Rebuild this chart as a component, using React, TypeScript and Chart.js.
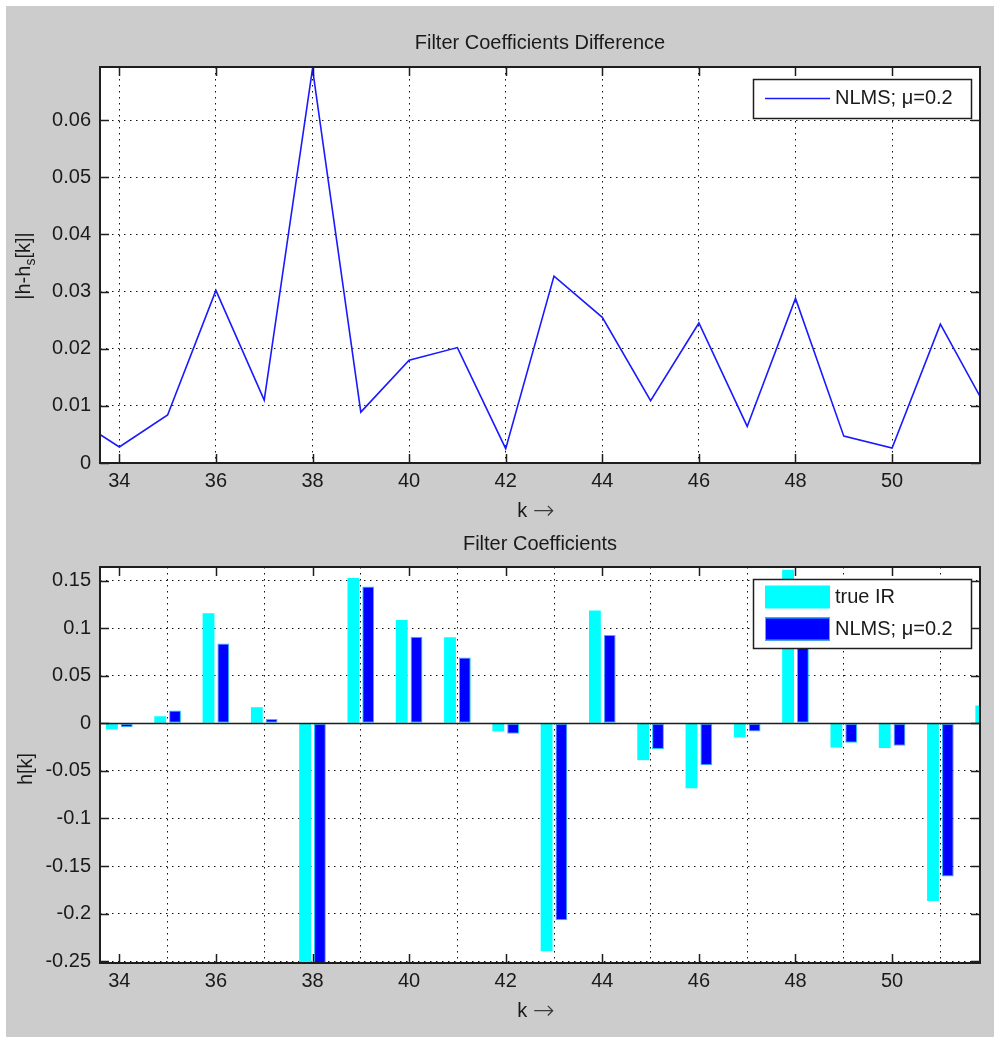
import React, { useEffect, useRef } from 'react';
import { Chart, registerables } from 'chart.js';

Chart.register(...registerables);

// ---------------- data ----------------
const K_DIFF = [33, 34, 35, 36, 37, 38, 39, 40, 41, 42, 43, 44, 45, 46, 47, 48, 49, 50, 51, 52];
const DIFF_NLMS = [
  0.0083, 0.0028, 0.0084, 0.0302, 0.011, 0.069, 0.0089, 0.018, 0.0202, 0.0025,
  0.0327, 0.0255, 0.0109, 0.0245, 0.0064, 0.0288, 0.0047, 0.0026, 0.0243, 0.0089,
];

const K_BARS = [34, 35, 36, 37, 38, 39, 40, 41, 42, 43, 44, 45, 46, 47, 48, 49, 50, 51, 52];
const TRUE_IR = [
  -0.0063, 0.0074, 0.1156, 0.0169, -0.34, 0.1526, 0.1086, 0.0903, -0.0085, -0.2395,
  0.1184, -0.0387, -0.0683, -0.0148, 0.1614, -0.0255, -0.026, -0.1867, 0.0187,
];
const NLMS_IR = [
  -0.0042, 0.0134, 0.0839, 0.0046, -0.2707, 0.1438, 0.0909, 0.0691, -0.011, -0.2068,
  0.0927, -0.0271, -0.044, -0.0085, 0.1326, -0.0205, -0.0236, -0.161, 0.0098,
];

const X_TICKS = [34, 36, 38, 40, 42, 44, 46, 48, 50];
const X_TICK_LABELS = ['34', '36', '38', '40', '42', '44', '46', '48', '50'];
const DIFF_Y_TICKS = [0, 0.01, 0.02, 0.03, 0.04, 0.05, 0.06];
const DIFF_Y_TICK_LABELS = ['0', '0.01', '0.02', '0.03', '0.04', '0.05', '0.06'];
const COEF_Y_TICKS = [-0.25, -0.2, -0.15, -0.1, -0.05, 0, 0.05, 0.1, 0.15];
const COEF_Y_TICK_LABELS = ['-0.25', '-0.2', '-0.15', '-0.1', '-0.05', '0', '0.05', '0.1', '0.15'];

const X_MIN = 33.6;
const X_MAX = 51.82;
const DIFF_Y_MIN = 0;
const DIFF_Y_MAX = 0.0693;
const COEF_Y_MIN = -0.2518;
const COEF_Y_MAX = 0.1642;

const TOP_TITLE = 'Filter Coefficients Difference';
const BOTTOM_TITLE = 'Filter Coefficients';
const X_TITLE_K = 'k';
const X_TITLE_ARROW = '\u2192';
const LEGEND_NLMS = 'NLMS; \u03bc=0.2';
const LEGEND_TRUE = 'true IR';

// ---------------- style ----------------
const FONT = '"Liberation Sans", Arial, Helvetica, sans-serif';
const ARROW_FONT = '"DejaVu Sans", sans-serif';
const TEXT = '#1a1a1a';
const AXIS = '#1e1e1e';
const GRID = '#111111';
const CYAN = '#00ffff';
const BLUE = '#0000ff';
const LINE_BLUE = '#1a1aff';

type LabelPart = { text: string; sub?: boolean };
type LegendItem = {
  kind: 'line' | 'box';
  color: string;
  border?: string;
  label: string;
  cy: number;
  h?: number;
};
type Deco = {
  yLabelParts: LabelPart[];
  yLabelX: number;
  yLabelCy: number;
  xLabelBase: number;
  legend: { x: number; y: number; w: number; h: number; items: LegendItem[] };
  baseline?: boolean;
};

function makeDeco(deco: Deco) {
  return {
    id: 'matlabDeco',
    beforeDraw(chart: any) {
      const { ctx, chartArea: a } = chart;
      ctx.save();
      ctx.fillStyle = '#ffffff';
      ctx.fillRect(a.left, a.top, a.right - a.left, a.bottom - a.top);
      ctx.restore();
    },
    afterDatasetsDraw(chart: any) {
      if (!deco.baseline) return;
      const { ctx, chartArea: a } = chart;
      const y0 = Math.round(chart.scales.y.getPixelForValue(0)) + 0.5;
      ctx.save();
      ctx.strokeStyle = AXIS;
      ctx.lineWidth = 1.5;
      ctx.beginPath();
      ctx.moveTo(a.left, y0);
      ctx.lineTo(a.right, y0);
      ctx.stroke();
      ctx.restore();
    },
    afterDraw(chart: any) {
      const { ctx, chartArea: a } = chart;
      const xs = chart.scales.x;
      const ys = chart.scales.y;
      ctx.save();
      // inward ticks
      ctx.strokeStyle = AXIS;
      ctx.lineWidth = 1.5;
      const TL = 9;
      ctx.beginPath();
      xs.ticks.forEach((t: any) => {
        const px = Math.round(xs.getPixelForValue(t.value)) + 0.5;
        ctx.moveTo(px, a.bottom);
        ctx.lineTo(px, a.bottom - TL);
        ctx.moveTo(px, a.top);
        ctx.lineTo(px, a.top + TL);
      });
      ys.ticks.forEach((t: any) => {
        const py = Math.round(ys.getPixelForValue(t.value)) + 0.5;
        ctx.moveTo(a.left, py);
        ctx.lineTo(a.left + TL, py);
        ctx.moveTo(a.right, py);
        ctx.lineTo(a.right - TL, py);
      });
      ctx.stroke();
      // frame
      ctx.lineWidth = 2;
      ctx.strokeRect(a.left, a.top, a.right - a.left, a.bottom - a.top);

      // x title: "k →"
      ctx.fillStyle = TEXT;
      ctx.textBaseline = 'alphabetic';
      ctx.textAlign = 'left';
      ctx.font = `20px ${FONT}`;
      const kW = ctx.measureText(X_TITLE_K + ' ').width;
      ctx.font = `200 26px ${ARROW_FONT}`;
      const arW = ctx.measureText(X_TITLE_ARROW).width;
      const startX = (a.left + a.right) / 2 - 4 - (kW + arW) / 2;
      ctx.font = `20px ${FONT}`;
      ctx.fillText(X_TITLE_K, startX, a.bottom + deco.xLabelBase);
      ctx.fillStyle = '#3a3a3a';
      ctx.font = `200 26px ${ARROW_FONT}`;
      ctx.fillText(X_TITLE_ARROW, startX + kW, a.bottom + deco.xLabelBase + 2);

      // y title (rotated, with subscript)
      ctx.fillStyle = TEXT;
      ctx.save();
      ctx.translate(deco.yLabelX, deco.yLabelCy);
      ctx.rotate(-Math.PI / 2);
      ctx.textAlign = 'left';
      ctx.textBaseline = 'alphabetic';
      const widths = deco.yLabelParts.map((p) => {
        ctx.font = p.sub ? `14px ${FONT}` : `20px ${FONT}`;
        return ctx.measureText(p.text).width;
      });
      const total = widths.reduce((s, w) => s + w, 0);
      let cx = -total / 2;
      deco.yLabelParts.forEach((p, i) => {
        ctx.font = p.sub ? `14px ${FONT}` : `20px ${FONT}`;
        ctx.fillText(p.text, cx, p.sub ? 5 : 0);
        cx += widths[i];
      });
      ctx.restore();

      // legend
      const L = deco.legend;
      ctx.fillStyle = '#ffffff';
      ctx.fillRect(L.x, L.y, L.w, L.h);
      ctx.strokeStyle = AXIS;
      ctx.lineWidth = 1.5;
      ctx.strokeRect(L.x + 0.5, L.y + 0.5, L.w, L.h);
      L.items.forEach((it) => {
        if (it.kind === 'line') {
          ctx.strokeStyle = it.color;
          ctx.lineWidth = 1.5;
          ctx.beginPath();
          ctx.moveTo(L.x + 12, L.y + it.cy);
          ctx.lineTo(L.x + 77, L.y + it.cy);
          ctx.stroke();
        } else {
          const h = it.h || 22;
          ctx.fillStyle = it.color;
          ctx.fillRect(L.x + 12, L.y + it.cy - h / 2, 65, h);
          if (it.border) {
            ctx.strokeStyle = it.border;
            ctx.lineWidth = 1;
            ctx.strokeRect(L.x + 12.5, L.y + it.cy - h / 2 + 0.5, 64, h - 1);
          }
        }
        ctx.fillStyle = TEXT;
        ctx.font = `20px ${FONT}`;
        ctx.textAlign = 'left';
        ctx.textBaseline = 'middle';
        ctx.fillText(it.label, L.x + 82, L.y + it.cy);
      });
      ctx.restore();
    },
  };
}

function xScale(height: number) {
  return {
    type: 'linear' as const,
    min: X_MIN,
    max: X_MAX,
    offset: false,
    afterBuildTicks: (s: any) => {
      s.ticks = X_TICKS.map((v) => ({ value: v }));
    },
    afterFit: (s: any) => {
      s.height = height;
    },
    grid: { color: GRID, lineWidth: 1, drawTicks: false },
    border: { display: false, dash: [1.5, 4.5] },
    ticks: {
      font: { family: FONT, size: 20 },
      color: TEXT,
      padding: 6,
      maxRotation: 0,
      autoSkip: false,
      callback: (_v: any, i: number) => X_TICK_LABELS[i],
    },
  };
}

function yScale(min: number, max: number, ticks: number[], labels: string[]) {
  return {
    type: 'linear' as const,
    min,
    max,
    afterBuildTicks: (s: any) => {
      s.ticks = ticks.map((v) => ({ value: v }));
    },
    afterFit: (s: any) => {
      s.width = 100;
    },
    grid: { color: GRID, lineWidth: 1, drawTicks: false },
    border: { display: false, dash: [1.5, 4.5] },
    ticks: {
      font: { family: FONT, size: 20 },
      color: TEXT,
      padding: 9,
      autoSkip: false,
      callback: (_v: any, i: number) => labels[i],
    },
  };
}

export default function App() {
  const topRef = useRef<HTMLCanvasElement>(null);
  const botRef = useRef<HTMLCanvasElement>(null);

  useEffect(() => {
    const top = new Chart(topRef.current!, {
      type: 'line',
      data: {
        datasets: [
          {
            label: LEGEND_NLMS,
            data: K_DIFF.map((k, i) => ({ x: k, y: DIFF_NLMS[i] })),
            borderColor: LINE_BLUE,
            borderWidth: 1.6,
            pointRadius: 0,
            tension: 0,
            fill: false,
          },
        ],
      },
      options: {
        responsive: false,
        animation: false,
        events: [],
        layout: { padding: { left: 0, right: 14, top: 0, bottom: 0 } },
        plugins: {
          legend: { display: false },
          tooltip: { enabled: false },
          title: {
            display: true,
            text: TOP_TITLE,
            fullSize: false,
            color: TEXT,
            font: { family: FONT, size: 20, weight: 'normal' },
            padding: { top: 31, bottom: 12 },
          },
        },
        scales: {
          x: xScale(58),
          y: yScale(DIFF_Y_MIN, DIFF_Y_MAX, DIFF_Y_TICKS, DIFF_Y_TICK_LABELS),
        },
      } as any,
      plugins: [
        makeDeco({
          yLabelParts: [{ text: '|h-h' }, { text: 's', sub: true }, { text: '[k]|' }],
          yLabelX: 30,
          yLabelCy: 266,
          xLabelBase: 54,
          legend: {
            x: 753,
            y: 79,
            w: 218,
            h: 39,
            items: [{ kind: 'line', color: LINE_BLUE, label: LEGEND_NLMS, cy: 19.5 }],
          },
        }),
      ],
    });

    const bottom = new Chart(botRef.current!, {
      type: 'bar',
      data: {
        datasets: [
          {
            label: LEGEND_TRUE,
            data: K_BARS.map((k, i) => ({ x: k, y: TRUE_IR[i] })),
            backgroundColor: CYAN,
            borderColor: CYAN,
            borderWidth: 0,
          },
          {
            label: LEGEND_NLMS,
            data: K_BARS.map((k, i) => ({ x: k, y: NLMS_IR[i] })),
            backgroundColor: BLUE,
            borderColor: '#19c8ff',
            borderWidth: 1,
            borderSkipped: false,
          },
        ],
      },
      options: {
        responsive: false,
        animation: false,
        events: [],
        layout: { padding: { left: 0, right: 14, top: 0, bottom: 0 } },
        datasets: { bar: { categoryPercentage: 0.613, barPercentage: 0.8 } },
        plugins: {
          legend: { display: false },
          tooltip: { enabled: false },
          title: {
            display: true,
            text: BOTTOM_TITLE,
            fullSize: false,
            color: TEXT,
            font: { family: FONT, size: 20, weight: 'normal' },
            padding: { top: 11, bottom: 11 },
          },
        },
        scales: {
          x: xScale(74),
          y: yScale(COEF_Y_MIN, COEF_Y_MAX, COEF_Y_TICKS, COEF_Y_TICK_LABELS),
        },
      } as any,
      plugins: [
        makeDeco({
          yLabelParts: [{ text: 'h[k]' }],
          yLabelX: 32,
          yLabelCy: 248,
          xLabelBase: 54,
          baseline: true,
          legend: {
            x: 753,
            y: 58,
            w: 218,
            h: 69,
            items: [
              { kind: 'box', color: CYAN, label: LEGEND_TRUE, cy: 18, h: 23 },
              { kind: 'box', color: BLUE, border: '#19c8ff', label: LEGEND_NLMS, cy: 50, h: 23 },
            ],
          },
        }),
      ],
    });

    return () => {
      top.destroy();
      bottom.destroy();
    };
  }, []);

  return (
    <div style={{ position: 'absolute', left: 0, top: 0, width: 994, height: 1037, background: '#ffffff', overflow: 'hidden' }}>
      <div style={{ position: 'absolute', left: 6, top: 6, width: 988, height: 1031, background: '#cccccc' }} />
      <canvas ref={topRef} width={994} height={521} style={{ position: 'absolute', left: 0, top: 0, display: 'block' }} />
      <canvas ref={botRef} width={994} height={516} style={{ position: 'absolute', left: 0, top: 521, display: 'block' }} />
    </div>
  );
}
